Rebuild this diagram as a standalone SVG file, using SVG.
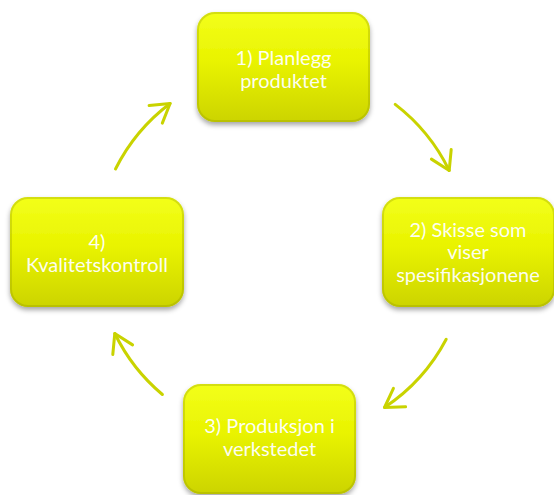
<svg xmlns="http://www.w3.org/2000/svg" width="554" height="495" viewBox="0 0 554 495">
<style>
.node rect.b{fill:url(#g);filter:url(#sh);}
.node rect.e{fill:none;stroke:#8f9500;stroke-opacity:0.3;stroke-width:2;}
.node text{font-family:Lato,"Open Sans","Liberation Sans",sans-serif;font-size:20px;fill:#ffffff;fill-opacity:0.95;text-anchor:middle;}
.conn path{fill:none;stroke:#c9d300;stroke-width:3;stroke-linecap:round;}
</style>
<defs>
<linearGradient id="g" x1="0" y1="0" x2="0" y2="1">
<stop offset="0" stop-color="#f3ff1a"/>
<stop offset="0.45" stop-color="#e9f300"/>
<stop offset="1" stop-color="#ccd400"/>
</linearGradient>
<filter id="sh" x="-10%" y="-10%" width="125%" height="135%">
<feDropShadow dx="0" dy="3" stdDeviation="2.5" flood-color="#000" flood-opacity="0.35"/>
</filter>
<marker id="ah" markerUnits="userSpaceOnUse" markerWidth="30" markerHeight="30" refX="0" refY="0" viewBox="-25 -15 30 30" orient="auto">
<path d="M -18 -11 L 0 0 L -18 11" fill="none" stroke="#c9d300" stroke-width="3" stroke-linecap="round" stroke-linejoin="round"/>
</marker>
</defs>
<rect width="554" height="495" fill="#ffffff"/>
<g class="conn">
<path d="M 395.2 104.4 A 186 186 0 0 1 449.2 170.5" marker-end="url(#ah)"/>
<path d="M 446.2 339.3 A 186 186 0 0 1 384.5 407.5" marker-end="url(#ah)"/>
<path d="M 162.4 394.5 A 186 186 0 0 1 114.8 333.5" marker-end="url(#ah)"/>
<path d="M 115.5 169 A 186 186 0 0 1 170.1 103.5" marker-end="url(#ah)"/>
</g>
<g id="node1" class="node">
<rect class="b" x="197" y="12" width="173" height="110" rx="18"/>
<rect class="e" x="198" y="13" width="171" height="108" rx="17"/>
<text x="283.5" y="65">1) Planlegg</text>
<text x="283.5" y="88">produktet</text>
</g>
<g id="node2" class="node">
<rect class="b" x="382" y="197" width="173" height="110" rx="18"/>
<rect class="e" x="383" y="198" width="171" height="108" rx="17"/>
<text x="468" y="237">2) Skisse som</text>
<text x="468" y="259">viser</text>
<text x="468" y="282">spesifikasjonene</text>
</g>
<g id="node3" class="node">
<rect class="b" x="183" y="384" width="173" height="110" rx="18"/>
<rect class="e" x="184" y="385" width="171" height="108" rx="17"/>
<text x="269.5" y="433">3) Produksjon i</text>
<text x="269.5" y="456">verkstedet</text>
</g>
<g id="node4" class="node">
<rect class="b" x="10" y="197" width="174" height="110" rx="18"/>
<rect class="e" x="11" y="198" width="172" height="108" rx="17"/>
<text x="97" y="249">4)</text>
<text x="97" y="272">Kvalitetskontroll</text>
</g>
</svg>
